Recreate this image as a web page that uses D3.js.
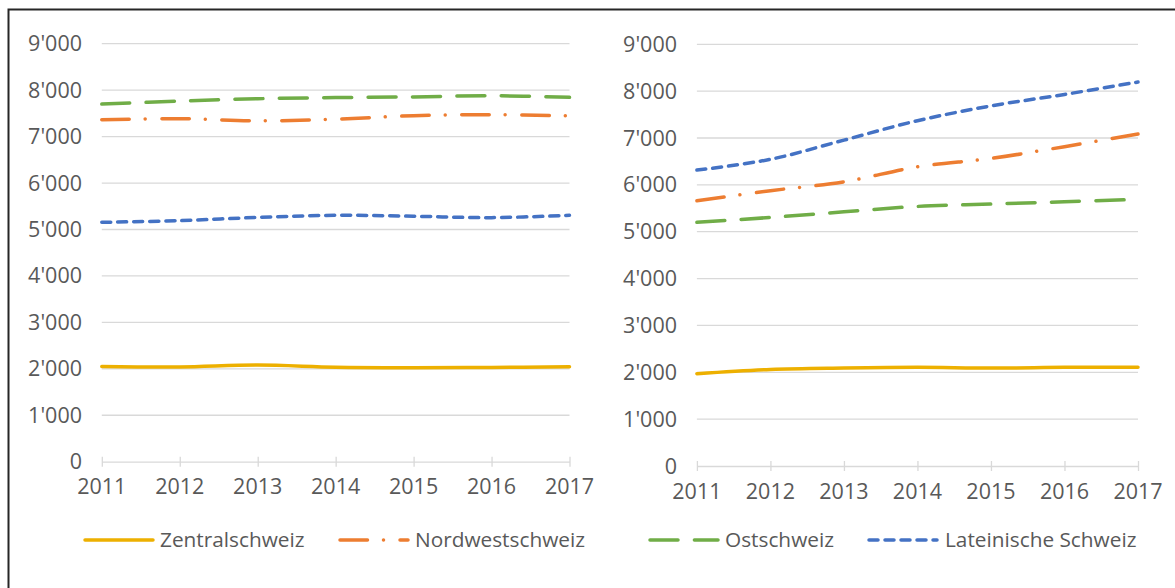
<!DOCTYPE html>
<html>
<head>
<script src="https://d3js.org/d3.v7.min.js"></script>
<title>Regionen 2011-2017</title>
<style>
  body { margin: 0; background: white; }
  svg { display: block; font-family: 'Open Sans', sans-serif; }
  .lbl { fill: #595959; font-size: 21.5px; }
  .lg { font-size: 20.8px; }
</style>
</head>
<body>
<div class="chart"></div>
<script>
const years = [2011, 2012, 2013, 2014, 2015, 2016, 2017];
const yTicks = [0, 1000, 2000, 3000, 4000, 5000, 6000, 7000, 8000, 9000];
const seriesNames = ["Zentralschweiz", "Nordwestschweiz", "Ostschweiz", "Lateinische Schweiz"];

// left panel
const leftZentral = [2050, 2040, 2080, 2035, 2025, 2030, 2045];
const leftNordwest = [7365, 7385, 7340, 7375, 7450, 7470, 7445];
const leftOst = [7700, 7765, 7815, 7840, 7855, 7880, 7845];
const leftLatein = [5155, 5190, 5260, 5305, 5285, 5255, 5305];

// right panel
const rightZentral = [1970, 2060, 2090, 2105, 2090, 2105, 2110];
const rightNordwest = [5660, 5875, 6065, 6385, 6565, 6815, 7085];
const rightOst = [5200, 5305, 5425, 5540, 5590, 5640, 5690];
const rightLatein = [6315, 6545, 6955, 7370, 7685, 7930, 8195];

const colors = ["#EDB000", "#ED7D31", "#70AD47", "#4472C4"];
const dashes = ["none", "27.5 16 0.01 16.5", "28 16.4", "9 7"];

const w = 1175;
const h = 588;

const fmt = d3.formatLocale({decimal: ".", thousands: "'", grouping: [3], currency: ["", ""]}).format(",");

const svg = d3.select(".chart")
    .append("svg")
    .attr("width", w)
    .attr("height", h);

// frame
svg.append("rect")
    .attr("x", 8.5)
    .attr("y", 9.5)
    .attr("width", 1300)
    .attr("height", 700)
    .attr("fill", "none")
    .attr("stroke", "#262626")
    .attr("stroke-width", 2);

function panel(x0, x1, y0, y1, labelRight, xLabelY, data) {
    const x = d3.scalePoint().domain(years).range([x0, x1]);
    const y = d3.scaleLinear().domain([0, 9000]).range([y0, y1]);
    const g = svg.append("g");

    // gridlines
    g.selectAll(".grid")
        .data(yTicks.slice(1))
        .enter()
        .append("line")
        .attr("x1", x0).attr("x2", x1)
        .attr("y1", d => y(d)).attr("y2", d => y(d))
        .attr("stroke", "#D9D9D9")
        .attr("stroke-width", 1.3);

    // x axis
    const xa = g.append("g")
        .attr("transform", `translate(0 ${y(0)})`)
        .call(d3.axisBottom(x).tickSizeInner(5).tickSizeOuter(0).tickPadding(10));
    xa.select(".domain").attr("stroke", "#D9D9D9").attr("stroke-width", 1.3);
    xa.selectAll(".tick line").attr("y1", -5).attr("stroke", "#D9D9D9").attr("stroke-width", 1.3);
    xa.selectAll(".tick text").remove();

    g.selectAll(".xl")
        .data(years)
        .enter()
        .append("text")
        .attr("class", "lbl")
        .attr("x", d => x(d))
        .attr("y", xLabelY)
        .attr("dy", "0.35em")
        .attr("text-anchor", "middle")
        .text(d => d);

    g.selectAll(".yl")
        .data(yTicks)
        .enter()
        .append("text")
        .attr("class", "lbl")
        .attr("x", labelRight)
        .attr("y", d => y(d))
        .attr("dy", "0.35em")
        .attr("text-anchor", "end")
        .text(d => fmt(d));

    const line = d3.line()
        .x((d, i) => x(years[i]))
        .y(d => y(d))
        .curve(d3.curveCardinal.tension(0));

    g.selectAll(".series")
        .data(data)
        .enter()
        .append("path")
        .attr("d", d => line(d))
        .attr("fill", "none")
        .attr("stroke", (d, i) => colors[i])
        .attr("stroke-width", 3.5)
        .attr("stroke-linecap", "round")
        .attr("stroke-dasharray", (d, i) => dashes[i]);
}

panel(101.8, 569.5, 461.7, 43.7, 82, 486, [leftZentral, leftNordwest, leftOst, leftLatein]);
panel(696.9, 1138, 466, 44.3, 677, 491, [rightZentral, rightNordwest, rightOst, rightLatein]);

// legend
const legendX = [85, 340, 650, 869];
const legendTextX = [160, 415, 725, 945];
const legendY = 540;

const lg = svg.append("g");
lg.selectAll(".lgline")
    .data(seriesNames)
    .enter()
    .append("line")
    .attr("x1", (d, i) => legendX[i])
    .attr("x2", (d, i) => legendX[i] + 68)
    .attr("y1", legendY).attr("y2", legendY)
    .attr("stroke", (d, i) => colors[i])
    .attr("stroke-width", 3.5)
    .attr("stroke-linecap", "round")
    .attr("stroke-dasharray", (d, i) => dashes[i]);

lg.selectAll(".lgtext")
    .data(seriesNames)
    .enter()
    .append("text")
    .attr("class", "lbl lg")
    .attr("x", (d, i) => legendTextX[i])
    .attr("y", legendY)
    .attr("dy", "0.35em")
    .text(d => d);
</script>
</body>
</html>
